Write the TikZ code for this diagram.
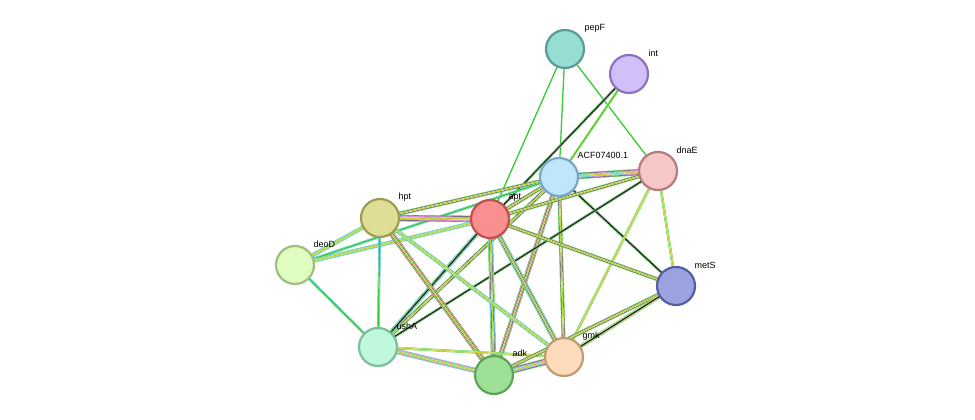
\documentclass[tikz,border=0pt]{standalone}
\usepackage{fontspec}
\setmainfont{Liberation Sans}
\definecolor{cg}{HTML}{33CC33}
\definecolor{ck}{HTML}{222222}
\definecolor{cc}{HTML}{22B8D8}
\definecolor{cm}{HTML}{D040D0}
\definecolor{cr}{HTML}{E03030}
\definecolor{cy}{HTML}{C8D040}
\definecolor{f1}{HTML}{96DDD3}\definecolor{s1}{HTML}{5A9C94}
\definecolor{f2}{HTML}{D2BFFA}\definecolor{s2}{HTML}{8C73C0}
\definecolor{f3}{HTML}{BFE6FB}\definecolor{s3}{HTML}{7AA7C6}
\definecolor{f4}{HTML}{F7C6C6}\definecolor{s4}{HTML}{B77A7A}
\definecolor{f5}{HTML}{F98F8F}\definecolor{s5}{HTML}{C24F4F}
\definecolor{f6}{HTML}{DEDE96}\definecolor{s6}{HTML}{9C9C55}
\definecolor{f7}{HTML}{E0FDC0}\definecolor{s7}{HTML}{9FBE7F}
\definecolor{f8}{HTML}{9AA3E0}\definecolor{s8}{HTML}{545E9E}
\definecolor{f9}{HTML}{C0F8DC}\definecolor{s9}{HTML}{7BBF9A}
\definecolor{f10}{HTML}{FDDBBB}\definecolor{s10}{HTML}{C09A73}
\definecolor{f11}{HTML}{9DE096}\definecolor{s11}{HTML}{5EA25A}
\tikzset{
 prot/.style={circle,minimum size=38pt,inner sep=0pt,line width=2.2pt,fill=f#1,draw=s#1},
 lab/.style={anchor=west,font=\fontsize{9}{10}\selectfont}
}
\newcommand{\E}[3]{%
 \foreach \c [count=\i] in {#3}{\xdef\nE{\i}}%
 \foreach \c [count=\i] in {#3}{%
  \pgfmathsetmacro\w{(\nE-\i+1)*1.3}%
  \pgfmathsetmacro\ww{\w-0.9}%
  \draw[line width=\w pt,draw=\c] (#1) -- (#2);
  \ifnum\i<\nE\relax \draw[line width=\ww pt,draw=white] (#1) -- (#2);\fi
 }}
\begin{document}
\begin{tikzpicture}[x=1pt,y=-1pt]
\useasboundingbox (0,0) rectangle (975,420);
\coordinate (pepF) at (565,49);
\coordinate (int) at (629,74);
\coordinate (ACF) at (559,177);
\coordinate (dnaE) at (658,171);
\coordinate (apt) at (490,219);
\coordinate (hpt) at (380,218);
\coordinate (deoD) at (295,265);
\coordinate (metS) at (676,286);
\coordinate (ushA) at (378,347);
\coordinate (gmk) at (564,357);
\coordinate (adk) at (494,375);
\E{pepF}{apt}{cg}
\E{pepF}{ACF}{cg}
\E{pepF}{dnaE}{cg}
\E{int}{ACF}{cy,cg}
\E{int}{apt}{cg,ck}
\E{ACF}{dnaE}{cg,ck,cm,cc,cy}
\E{ACF}{apt}{cg,ck,cy}
\E{ACF}{hpt}{cg,ck,cy}
\E{ACF}{adk}{cg,cm,ck,cy}
\E{ACF}{gmk}{cg,ck,cy}
\E{ACF}{metS}{cg,ck}
\E{ACF}{ushA}{cg,ck,cy}
\E{ACF}{deoD}{cc,cg}
\E{dnaE}{apt}{cg,ck,cy}
\E{dnaE}{metS}{cg,cy}
\E{dnaE}{ushA}{cg,ck}
\E{dnaE}{gmk}{cg,cy}
\E{apt}{hpt}{cg,ck,cm,cc,cy}
\E{apt}{deoD}{cc,cg,cy}
\E{apt}{metS}{cg,ck,cy}
\E{apt}{gmk}{cg,cc,ck,cy}
\E{apt}{adk}{cg,cc,ck,cy}
\E{apt}{ushA}{cc,cg,ck}
\E{hpt}{deoD}{cc,cg,cy}
\E{hpt}{ushA}{cc,cg}
\E{hpt}{adk}{cr,cg,ck,cy}
\E{hpt}{gmk}{cc,cg,cy}
\E{deoD}{ushA}{cc,cg}
\E{ushA}{adk}{cc,cm,cg,cy}
\E{ushA}{gmk}{cg,cy}
\E{adk}{gmk}{cg,ck,cm,cc,cy}
\E{adk}{metS}{cg,ck,cy}
\E{gmk}{metS}{cg,cy,ck}
\node[prot=1] (npepF) at (pepF) {};
\node[prot=2] (nint) at (int) {};
\node[prot=3] (nACF) at (ACF) {};
\node[prot=4] (ndnaE) at (dnaE) {};
\node[prot=5] (napt) at (apt) {};
\node[prot=6] (nhpt) at (hpt) {};
\node[prot=7] (ndeoD) at (deoD) {};
\node[prot=8] (nmetS) at (metS) {};
\node[prot=9] (nushA) at (ushA) {};
\node[prot=10] (ngmk) at (gmk) {};
\node[prot=11] (nadk) at (adk) {};
\node[lab] (lpepF) at (581,28) {pepF};
\node[lab] (lint) at (645,53) {int};
\node[lab] (lACF) at (574,155) {ACF07400.1};
\node[lab] (ldnaE) at (673,150) {dnaE};
\node[lab] (lapt) at (505,198) {apt};
\node[lab] (lhpt) at (395,197) {hpt};
\node[lab] (ldeoD) at (310,244) {deoD};
\node[lab] (lmetS) at (691,265) {metS};
\node[lab] (lushA) at (393,326) {ushA};
\node[lab] (lgmk) at (579,336) {gmk};
\node[lab] (ladk) at (509,353) {adk};
\end{tikzpicture}
\end{document}
